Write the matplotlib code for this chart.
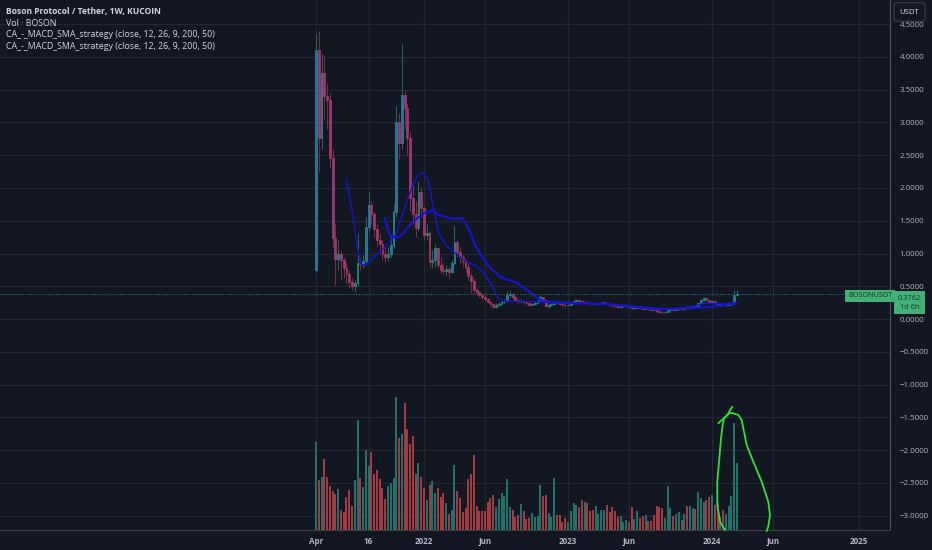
import numpy as np
import pandas as pd
import matplotlib
matplotlib.use('Agg')
import matplotlib.pyplot as plt
import matplotlib.dates as mdates
import matplotlib.transforms as mtransforms

# ---------------- data (weekly candles, BOSON/USDT, KuCoin) ----------------
first_week = '2021-04-05'
first_open = 0.75
close = [4.10, 2.76, 3.75, 3.40, 3.35, 2.46, 1.24, 0.92, 1.00, 0.90,
         0.78, 0.68, 0.57, 0.50, 0.55, 0.86, 0.84, 0.88, 1.40, 1.74,
         1.60, 1.37, 1.21, 1.15, 1.00, 0.95, 1.00, 1.13, 1.63, 3.00,
         2.69, 3.42, 3.22, 2.76, 1.85, 1.60, 1.39, 1.94, 1.69, 1.28,
         1.32, 0.87, 0.90, 1.08, 0.82, 0.75, 0.73, 0.76, 0.72, 0.85,
         1.17, 1.02, 0.95, 0.88, 0.80, 0.65, 0.58, 0.45, 0.41, 0.37,
         0.34, 0.30, 0.26, 0.23, 0.19, 0.21, 0.23, 0.26, 0.28, 0.37,
         0.38, 0.33, 0.29, 0.27, 0.28, 0.26, 0.24, 0.22, 0.23, 0.25,
         0.28, 0.33, 0.29, 0.20, 0.21, 0.23, 0.26, 0.25, 0.23, 0.22,
         0.21, 0.22, 0.24, 0.27, 0.29, 0.27, 0.25, 0.26, 0.25, 0.24,
         0.23, 0.235, 0.24, 0.245, 0.25, 0.23, 0.22, 0.21, 0.20, 0.19,
         0.195, 0.20, 0.205, 0.19, 0.17, 0.175, 0.18, 0.17, 0.16, 0.165,
         0.155, 0.145, 0.135, 0.12, 0.11, 0.10, 0.11, 0.14, 0.15, 0.145,
         0.15, 0.16, 0.155, 0.17, 0.165, 0.18, 0.20, 0.19, 0.24, 0.29,
         0.32, 0.29, 0.26, 0.27, 0.24, 0.22, 0.225, 0.215, 0.22, 0.23,
         0.24, 0.36, 0.3762]
high = [4.35, 4.40, 4.05, 4.03, 3.60, 3.45, 2.60, 1.45, 1.20, 1.05,
        0.95, 0.85, 0.75, 0.62, 0.60, 1.31, 0.95, 0.98, 1.55, 1.94,
        1.80, 1.65, 1.45, 1.30, 1.20, 1.10, 1.10, 1.30, 1.75, 3.25,
        3.15, 4.21, 3.50, 3.30, 2.85, 2.05, 1.80, 2.10, 2.00, 1.72,
        1.45, 1.35, 1.05, 1.15, 1.10, 0.95, 0.85, 0.82, 0.80, 0.90,
        1.42, 1.20, 1.10, 1.00, 0.92, 0.85, 0.70, 0.62, 0.48, 0.43,
        0.40, 0.36, 0.32, 0.28, 0.25, 0.24, 0.26, 0.28, 0.30, 0.43,
        0.45, 0.40, 0.35, 0.31, 0.30, 0.29, 0.27, 0.25, 0.25, 0.27,
        0.30, 0.37, 0.34, 0.30, 0.23, 0.25, 0.28, 0.27, 0.26, 0.24,
        0.23, 0.23, 0.25, 0.28, 0.31, 0.30, 0.28, 0.27, 0.27, 0.26,
        0.25, 0.25, 0.25, 0.26, 0.26, 0.26, 0.24, 0.23, 0.22, 0.21,
        0.21, 0.21, 0.22, 0.21, 0.20, 0.19, 0.19, 0.19, 0.18, 0.18,
        0.17, 0.16, 0.15, 0.14, 0.13, 0.12, 0.12, 0.15, 0.16, 0.16,
        0.16, 0.17, 0.17, 0.18, 0.18, 0.19, 0.21, 0.21, 0.25, 0.30,
        0.34, 0.33, 0.30, 0.28, 0.28, 0.25, 0.24, 0.23, 0.23, 0.24,
        0.25, 0.44, 0.45]
low = [0.72, 2.25, 2.60, 3.05, 2.90, 2.30, 1.10, 0.52, 0.75, 0.60,
       0.62, 0.55, 0.48, 0.45, 0.41, 0.50, 0.75, 0.78, 0.85, 1.35,
       1.45, 1.25, 1.10, 1.00, 0.90, 0.85, 0.88, 0.95, 1.08, 1.55,
       2.45, 2.60, 2.90, 2.50, 1.65, 1.45, 1.25, 1.35, 1.55, 1.20,
       1.20, 0.80, 0.78, 0.80, 0.78, 0.70, 0.68, 0.66, 0.62, 0.70,
       0.82, 0.95, 0.85, 0.80, 0.72, 0.60, 0.40, 0.40, 0.36, 0.33,
       0.30, 0.27, 0.24, 0.20, 0.17, 0.17, 0.20, 0.22, 0.25, 0.26,
       0.33, 0.30, 0.27, 0.25, 0.25, 0.24, 0.22, 0.20, 0.21, 0.22,
       0.24, 0.27, 0.27, 0.18, 0.17, 0.20, 0.22, 0.23, 0.21, 0.20,
       0.19, 0.20, 0.21, 0.23, 0.26, 0.25, 0.23, 0.24, 0.23, 0.22,
       0.21, 0.22, 0.22, 0.23, 0.23, 0.21, 0.20, 0.19, 0.18, 0.17,
       0.18, 0.18, 0.19, 0.18, 0.16, 0.16, 0.17, 0.16, 0.15, 0.15,
       0.14, 0.13, 0.12, 0.11, 0.10, 0.09, 0.09, 0.11, 0.13, 0.13,
       0.14, 0.14, 0.14, 0.15, 0.15, 0.16, 0.18, 0.18, 0.19, 0.23,
       0.28, 0.27, 0.24, 0.25, 0.23, 0.21, 0.20, 0.20, 0.20, 0.21,
       0.22, 0.23, 0.35]
volume = [88, 50, 53, 71, 53, 44, 39, 36, 41, 20,
          18, 33, 40, 24, 50, 110, 52, 43, 80, 64,
          78, 56, 60, 51, 42, 31, 44, 47, 52, 133,
          92, 96, 127, 101, 86, 94, 56, 67, 53, 42,
          30, 45, 49, 37, 42, 33, 37, 27, 16, 20,
          65, 39, 32, 18, 22, 51, 56, 75, 24, 19,
          19, 19, 28, 32, 35, 23, 31, 37, 34, 51,
          23, 20, 13, 15, 26, 19, 11, 12, 17, 13,
          14, 45, 34, 35, 17, 13, 52, 15, 15, 8,
          12, 8, 19, 27, 25, 23, 30, 28, 27, 19,
          20, 24, 16, 20, 20, 25, 18, 23, 19, 13,
          14, 8, 10, 8, 23, 11, 19, 12, 14, 15,
          9, 9, 15, 24, 23, 22, 12, 44, 22, 14,
          16, 18, 10, 16, 24, 24, 22, 21, 38, 32,
          28, 30, 33, 35, 25, 27, 13, 20, 16, 24,
          34, 107, 67]

# strategy lines: (week index, value)
line_a_week = [10.8, 13.2, 15.0, 16.2, 18.0, 22.3, 24.5, 27.0, 28.8, 32.4,
               34.9, 37.1, 38.8, 40.6, 42.4, 44.2, 46.8, 50.4, 54.0, 57.6,
               60.4, 63.0, 65.5, 67.3, 73.7, 81.0, 88.0, 95.3, 102.5, 109.7,
               116.9, 124.0, 131.3, 136.7, 140.3, 143.9, 147.5, 151.5]
line_a_val = [2.14, 1.63, 1.08, 0.84, 0.82, 1.00, 1.08, 1.20, 1.28, 1.74,
              2.05, 2.20, 2.23, 2.10, 1.70, 1.33, 1.13, 1.00, 0.88, 0.82,
              0.72, 0.55, 0.34, 0.27, 0.27, 0.26, 0.24, 0.25, 0.23, 0.20,
              0.17, 0.14, 0.16, 0.20, 0.24, 0.24, 0.23, 0.25]
line_b_week = [24.8, 26.6, 29.5, 32.0, 34.5, 37.0, 39.6, 42.4, 44.2, 47.5,
               49.3, 52.8, 55.0, 57.6, 60.4, 62.5, 66.5, 72.6, 76.3, 79.9,
               82.0, 92.8, 105.0, 116.9, 126.6, 134.9, 140.8, 146.6, 151.5]
line_b_val = [1.54, 1.28, 1.24, 1.33, 1.47, 1.55, 1.63, 1.66, 1.59, 1.55,
              1.53, 1.54, 1.40, 1.12, 0.92, 0.80, 0.64, 0.55, 0.44, 0.32,
              0.27, 0.24, 0.23, 0.18, 0.15, 0.17, 0.18, 0.21, 0.24]

last_price = 0.3762
symbol = 'BOSONUSDT'
countdown = '1d 6h'

tick_dates = ['2021-04-05', '2021-08-16', '2022-01-03', '2022-06-06', '2023-01-02',
              '2023-06-05', '2024-01-01', '2024-06-03', '2025-01-06']
tick_labels = ['Apr', '16', '2022', 'Jun', '2023', 'Jun', '2024', 'Jun', '2025']
price_ticks = [-3.0, -2.5, -2.0, -1.5, -1.0, -0.5, 0.0, 0.5, 1.0, 1.5, 2.0, 2.5, 3.0, 3.5, 4.0, 4.5]

legend_lines = ['Boson Protocol / Tether, 1W, KUCOIN', 'Vol · BOSON',
                'CA_-_MACD_SMA_strategy (close, 12, 26, 9, 200, 50)',
                'CA_-_MACD_SMA_strategy (close, 12, 26, 9, 200, 50)']

# hand-drawn marker (days after 2024-01-01, height in volume units)
pear_days = [32.9, 20.2, 13.4, 13.4, 18.5, 22.8, 27.0, 30.3, 37.2, 45.0, 53.8, 66.5,
             75.1, 79.1, 87.7, 104.4, 125.6, 142.3, 146.6, 142.3, 138.3]
pear_h = [0, 8.3, 25, 48.3, 71.7, 91.7, 105, 111.7, 114.3, 117, 116.7, 115,
          110, 101.7, 85, 68.3, 48.3, 28.3, 15, 3.3, -1]
arrow_days = [15.9, 37.2, 51.3]
arrow_h = [106.7, 114.3, 123.3]

# ---------------- style ----------------
BG = '#131722'
GRID = '#232733'
TXT = '#b2b5be'
UP_EDGE, UP_FILL, UP_WICK, UP_VOL = '#23867a', '#3466c6', '#1f6b62', '#1f716a'
DN_EDGE, DN_FILL, DN_WICK, DN_VOL = '#a23a45', '#9233ac', '#7d2f3a', '#a03c41'
MA_COLOR = '#1414d2'
LABEL_GREEN = '#43b077'

plt.rcParams['font.family'] = ['Open Sans', 'DejaVu Sans']

W, H = 932, 550
fig = plt.figure(figsize=(W / 100, H / 100), dpi=100, facecolor=BG)
ax = fig.add_axes([0, 20 / H, 890 / W, 530 / H])
ax.set_facecolor(BG)

n = len(close)
dates = pd.date_range(first_week, periods=n, freq='7D')
x = mdates.date2num(dates)
c = np.array(close)
o = np.array([first_open] + close[:-1])
hi = np.array(high)
lo = np.array(low)
up = c >= o

# x scale: ~0.3956 px per day, anchored on the 2022 / 2024 labels
px_per_day = 288 / 728
x2022 = mdates.date2num(pd.Timestamp('2022-01-03'))
x2024 = mdates.date2num(pd.Timestamp('2024-01-01'))
ax.set_xlim(x2022 - 424 / px_per_day, x2024 + (890 - 712) / px_per_day)
ax.set_ylim(-3.221, 4.870)

# volume overlay (created first so the price axis can be put on the right afterwards)
axv = ax.twinx()
axv.set_ylim(0, 530)
axv.bar(x, volume, width=5.0, color=np.where(up, UP_VOL, DN_VOL), zorder=2)
axv.set_yticks([])
axv.tick_params(length=0)
for s in axv.spines.values():
    s.set_visible(False)

# grid / ticks
ax.set_xticks(mdates.date2num(pd.to_datetime(tick_dates)))
ax.set_xticklabels(tick_labels)
ax.set_yticks(price_ticks)
ax.set_yticklabels([f'{v:.4f}'.replace('-', '\u2212') for v in price_ticks])
ax.grid(True, color=GRID, linewidth=0.9, zorder=0)
ax.set_axisbelow(True)
ax.yaxis.tick_right()
ax.yaxis.set_label_position('right')
ax.tick_params(axis='y', which='both', left=False, right=False, labelleft=False,
               labelright=True, length=0, pad=7, labelsize=5.7, labelcolor=TXT)
ax.tick_params(axis='x', length=0, pad=5, labelsize=5.8, labelcolor=TXT)
for lbl in ax.get_xticklabels():
    lbl.set_fontweight('bold')
for s in ['top', 'left']:
    ax.spines[s].set_visible(False)
ax.spines['right'].set_color('#4f535e')
ax.spines['bottom'].set_color('#3a3e49')

# candles
ax.vlines(x, lo, hi, colors=np.where(up, UP_WICK, DN_WICK), linewidth=0.7, zorder=2)
body_h = np.maximum(np.abs(c - o), 0.008)
ax.bar(x, body_h, bottom=np.minimum(o, c), width=4.6,
       color=np.where(up, UP_FILL, DN_FILL), edgecolor=np.where(up, UP_EDGE, DN_EDGE),
       linewidth=0.6, zorder=3)

# strategy lines
start_num = mdates.date2num(pd.Timestamp(first_week))
ax.plot(start_num + 7 * np.array(line_a_week), line_a_val, color=MA_COLOR, lw=1.0, zorder=4)
ax.plot(start_num + 7 * np.array(line_b_week), line_b_val, color=MA_COLOR, lw=1.5, zorder=4)

# last price dotted line
ax.axhline(last_price, xmax=847 / 890, color='#2a7c64', lw=0.8, ls=(0, (1, 1.5)), zorder=4)

# hand-drawn marker
axv.plot(x2024 + np.array(pear_days), pear_h, color='#2fe03a', lw=1.3, zorder=5,
         solid_capstyle='round', solid_joinstyle='round', clip_on=False)
axv.plot(x2024 + np.array(arrow_days), arrow_h, color='#2fe03a', lw=1.3, zorder=5,
         solid_capstyle='round')

# labels in pixel coordinates
pxT = mtransforms.Affine2D().scale(1 / W, -1 / H).translate(0, 1) + fig.transFigure
blend = mtransforms.blended_transform_factory(pxT, ax.transData)

for i, t in enumerate(legend_lines):
    fig.text(6, 11.7 + 11.5 * i, t, transform=pxT, ha='left', va='center',
             fontsize=6.1 if i == 0 else 6.4, color='#d1d4dc',
             fontweight='bold' if i == 0 else 'normal')

fig.text(909.5, 12, 'USDT', transform=pxT, ha='center', va='center', fontsize=5.5,
         color='#d1d4dc',
         bbox=dict(boxstyle='round,pad=0.75,rounding_size=0.35', fc=BG, ec='#3c404b', lw=0.8))

down = lambda dy: blend + mtransforms.ScaledTranslation(0, -dy / 100, fig.dpi_scale_trans)
fig.text(870, last_price, symbol, transform=down(1.5), ha='center', va='center',
         fontsize=5.2, color='#183328',
         bbox=dict(boxstyle='square,pad=0.35', fc=LABEL_GREEN, ec='none'))
fig.text(909.5, last_price, f'{last_price:.4f}\n{countdown}', transform=down(8.5),
         ha='center', va='center', fontsize=5.4, color='#183328', linespacing=1.3,
         bbox=dict(boxstyle='square,pad=0.5', fc=LABEL_GREEN, ec='none'))

fig.savefig('out.png', dpi=100, facecolor=BG)
